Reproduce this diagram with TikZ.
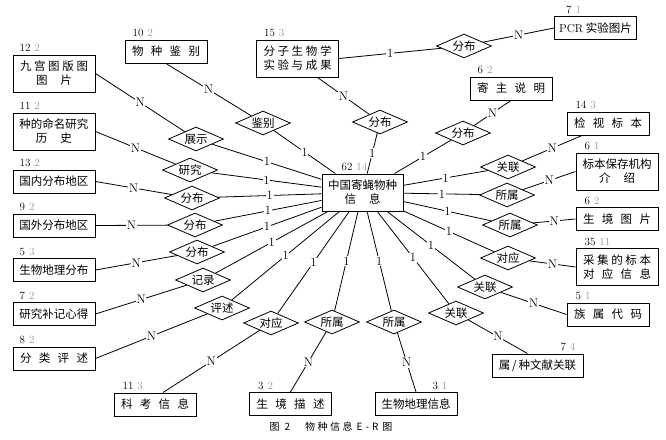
\documentclass[tikz,border=0pt]{standalone}
\usepackage{fontspec}
\newfontfamily\cjk{Noto Sans CJK SC}
\usetikzlibrary{shapes.geometric}
\definecolor{numgray}{RGB}{150,150,150}
\newcommand\nm[2]{#1\hspace{4pt}\textcolor{numgray}{#2}}
\newcommand\sw[1]{\makebox[68pt][s]{#1}}
\newcommand\sn[1]{\makebox[36pt][s]{#1}}
\begin{document}
\begin{tikzpicture}[x=1pt,y=-1pt,
 ent/.style={draw, line width=1pt, minimum width=82pt, minimum height=23pt, inner sep=0pt, align=center, font=\cjk\fontsize{11.5}{14}\selectfont},
 ent2/.style={ent, minimum height=37pt},
 rel/.style={diamond, draw, line width=0.8pt, shape aspect=2.3, minimum width=55pt, minimum height=24pt, inner sep=0pt, font=\cjk\fontsize{11.5}{14}\selectfont},
 conn/.style={line width=0.8pt},
 card/.style={fill=white, inner sep=0.8pt, midway, font=\fontsize{12.5}{12.5}\selectfont},
 numl/.style={anchor=south west, inner sep=0pt, yshift=2.5pt, font=\fontsize{11}{11}\selectfont},
 numr/.style={numl, anchor=south east}
]
\useasboundingbox (0,0) rectangle (666,439);

% entities
\node[ent2] (jg) at (54,73.5) {\sw{九\hfill 宫\hfill 图\hfill 版\hfill 图}\\\sn{图\hfill 片}};
\node[ent] (wz) at (166,51.5) {\sw{物\hfill 种\hfill 鉴\hfill 别}};
\node[ent2] (mm) at (54,131.5) {种的命名研究\\\sn{历\hfill 史}};
\node[ent] (gn) at (54,181.5) {国内分布地区};
\node[ent] (gw) at (54,225.5) {国外分布地区};
\node[ent] (swfb) at (54,270) {生物地理分布};
\node[ent] (yj) at (54,314) {研究补记心得};
\node[ent] (fl) at (54,358.5) {\sw{分\hfill 类\hfill 评\hfill 述}};
\node[ent] (kk) at (155,404.5) {\sw{科\hfill 考\hfill 信\hfill 息}};
\node[ent] (sjms) at (290.5,404) {\sw{生\hfill 境\hfill 描\hfill 述}};
\node[ent] (swxx) at (416,404) {生物地理信息};
\node[ent, minimum width=91pt] (sz) at (537.5,365.5) {属\,/\,种文献关联};
\node[ent] (zs) at (608,314.5) {\sw{族\hfill 属\hfill 代\hfill 码}};
\node[ent2] (cj) at (617,267) {\sw{采\hfill 集\hfill 的\hfill 标\hfill 本}\\\sw{对\hfill 应\hfill 信\hfill 息}};
\node[ent] (sjtp) at (617,219) {\sw{生\hfill 境\hfill 图\hfill 片}};
\node[ent2] (bb) at (617,171.5) {标本保存机构\\\sn{介\hfill 绍}};
\node[ent] (js) at (608,123.5) {\sw{检\hfill 视\hfill 标\hfill 本}};
\node[ent] (jz) at (511,88.5) {\sw{寄\hfill 主\hfill 说\hfill 明}};
\node[ent] (pcr) at (595.5,28) {{\rmfamily PCR} 实验图片};
\node[ent2] (fz) at (297.5,58.5) {\sw{分\hfill 子\hfill 生\hfill 物\hfill 学}\\\sw{实\hfill 验\hfill 与\hfill 成\hfill 果}};
\node[ent2, minimum width=81pt] (c) at (362.5,192.5) {中国寄蝇物种\\\sn{信\hfill 息}};

% number labels
\node[numl, xshift=7pt] (njg) at (jg.north west) {\nm{12}{2}};
\node[numl, xshift=8pt] (nwz) at (wz.north west) {\nm{10}{2}};
\node[numl, xshift=7pt] (nmm) at (mm.north west) {\nm{11}{2}};
\node[numl, xshift=7pt] (ngn) at (gn.north west) {\nm{13}{2}};
\node[numl, xshift=7pt] (ngw) at (gw.north west) {\nm{9}{2}};
\node[numl, xshift=7pt] (nswfb) at (swfb.north west) {\nm{5}{3}};
\node[numl, xshift=7pt] (nyj) at (yj.north west) {\nm{7}{2}};
\node[numl, xshift=7pt] (nfl) at (fl.north west) {\nm{8}{2}};
\node[numl, xshift=9pt] (nkk) at (kk.north west) {\nm{11}{3}};
\node[numl, xshift=9pt] (nsjms) at (sjms.north west) {\nm{3}{2}};
\node[numr, xshift=-10pt] (nswxx) at (swxx.north east) {\nm{3}{1}};
\node[numr, xshift=-8pt] (nsz) at (sz.north east) {\nm{7}{4}};
\node[numl, xshift=9pt] (nzs) at (zs.north west) {\nm{5}{1}};
\node[numl, xshift=9pt] (ncj) at (cj.north west) {\nm{35}{11}};
\node[numl, xshift=9pt] (nsjtp) at (sjtp.north west) {\nm{6}{2}};
\node[numl, xshift=9pt] (nbb) at (bb.north west) {\nm{6}{1}};
\node[numl, xshift=9pt] (njs) at (js.north west) {\nm{14}{3}};
\node[numl, xshift=8pt] (njz) at (jz.north west) {\nm{6}{2}};
\node[numl, xshift=12pt] (npcr) at (pcr.north west) {\nm{7}{1}};
\node[numl, xshift=8pt] (nfz) at (fz.north west) {\nm{15}{3}};
\node[numl, xshift=20pt] (nc) at (c.north west) {\nm{62}{14}};

% relationships
\node[rel] (r1) at (196,139) {展示};
\node[rel] (r2) at (263,123) {鉴别};
\node[rel] (r3) at (190,170) {研究};
\node[rel] (r4) at (192,198) {分布};
\node[rel] (r5) at (195,225) {分布};
\node[rel] (r6) at (197,252) {分布};
\node[rel] (r7) at (203,280) {记录};
\node[rel] (r8) at (222,308) {评述};
\node[rel] (r9) at (271,323) {对应};
\node[rel] (r10) at (332,322) {所属};
\node[rel] (r11) at (394,322) {所属};
\node[rel] (r12) at (456,313) {关联};
\node[rel] (r13) at (485,287) {关联};
\node[rel] (r14) at (508,258) {对应};
\node[rel] (r15) at (510,225) {所属};
\node[rel] (r16) at (507,195) {所属};
\node[rel] (r17) at (508,167) {关联};
\node[rel] (r18) at (463,133) {分布};
\node[rel] (r19) at (464,46) {分布};
\node[rel] (r20) at (380,122) {分布};

% entity -- relationship
\draw[conn] (jg.east) -- node[card]{N} (r1);
\draw[conn] (wz.south) -- node[card]{N} (r2);
\draw[conn] (mm.east) -- node[card]{N} (r3);
\draw[conn] (gn.east) -- node[card]{N} (r4);
\draw[conn] (gw.east) -- node[card]{N} (r5);
\draw[conn] (swfb.east) -- node[card]{N} (r6);
\draw[conn] (yj.east) -- node[card]{N} (r7);
\draw[conn] (fl.east) -- node[card]{N} (r8);
\draw[conn] ([xshift=8pt]kk.north) -- node[card]{N} (r9);
\draw[conn] (sjms.north) -- node[card]{N} (r10);
\draw[conn] (swxx.north) -- node[card]{N} (r11);
\draw[conn] ([xshift=-10pt]sz.north) -- node[card]{N} (r12);
\draw[conn] (zs.west) -- node[card]{N} (r13);
\draw[conn] (cj.west) -- node[card]{N} (r14);
\draw[conn] (sjtp.west) -- node[card]{N} (r15);
\draw[conn] (bb.west) -- node[card]{N} (r16);
\draw[conn] ([xshift=-26pt]js.south) -- node[card]{N} (r17);
\draw[conn] (jz.south) -- node[card]{N} (r18);
\draw[conn] (pcr.west) -- node[card]{N} (r19);
\draw[conn] (fz.east) -- node[card]{1} (r19);
\draw[conn] ([xshift=20pt]fz.south) -- node[card]{N} (r20);

% relationship -- centre
\foreach \r in {r1,r2,r3,r4,r5,r6,r7,r8,r9,r10,r11,r12,r13,r14,r15,r16,r17,r18,r20}
  \draw[conn] (\r) -- node[card]{1} (c);

% caption
\node (cap) at (331,427) {\cjk\fontsize{10}{10}\selectfont 图\hspace{5pt}2\hspace{15pt}物\hspace{2.5pt}种\hspace{2.5pt}信\hspace{2.5pt}息\hspace{4pt}E\hspace{3pt}-\hspace{3pt}R\hspace{4pt}图};
\end{tikzpicture}
\end{document}
